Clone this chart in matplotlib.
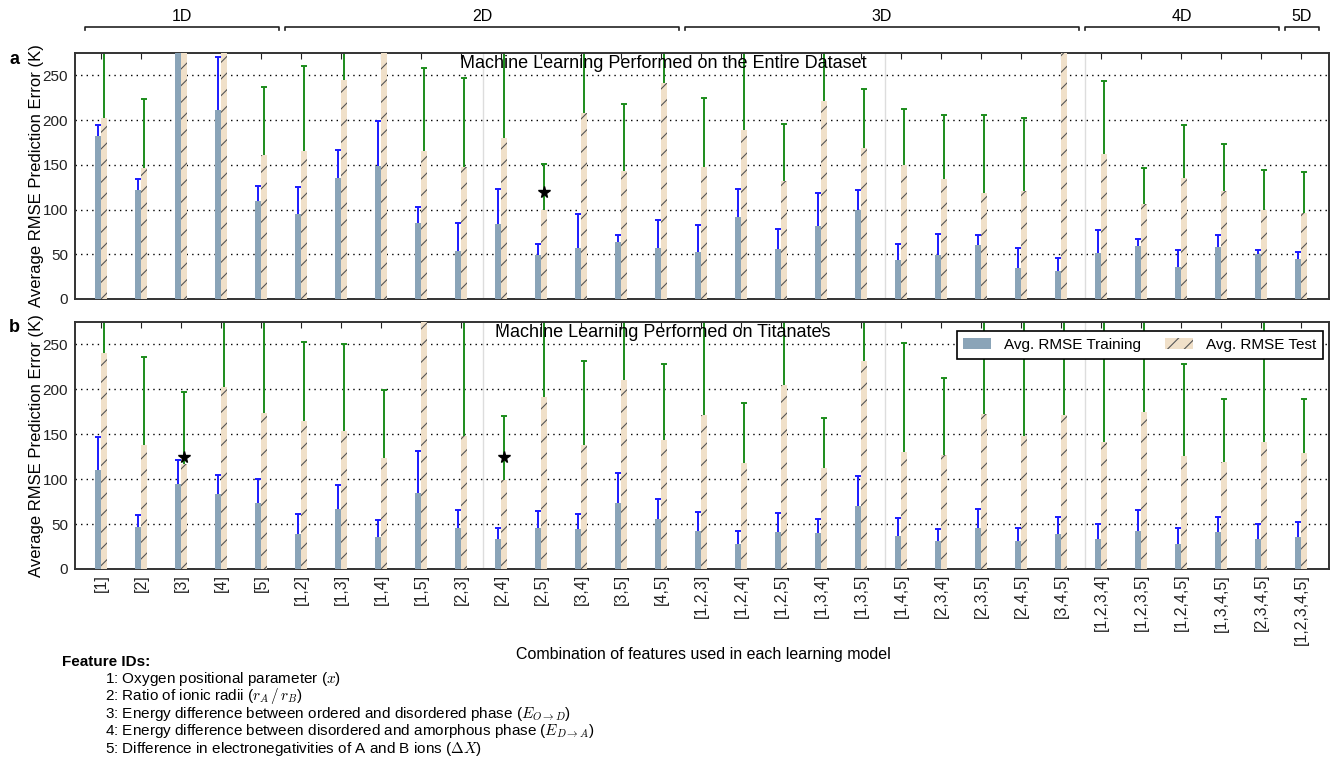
import matplotlib
matplotlib.use("Agg")
import matplotlib.pyplot as plt
import matplotlib.transforms as mtransforms
from matplotlib.patches import Patch
import numpy as np

plt.rcParams["font.family"] = ["Liberation Sans", "DejaVu Sans"]
plt.rcParams["mathtext.fontset"] = "cm"
plt.rcParams["hatch.linewidth"] = 0.8

combos = ["[1]", "[2]", "[3]", "[4]", "[5]",
          "[1,2]", "[1,3]", "[1,4]", "[1,5]", "[2,3]", "[2,4]", "[2,5]", "[3,4]", "[3,5]", "[4,5]",
          "[1,2,3]", "[1,2,4]", "[1,2,5]", "[1,3,4]", "[1,3,5]", "[1,4,5]", "[2,3,4]", "[2,3,5]",
          "[2,4,5]", "[3,4,5]",
          "[1,2,3,4]", "[1,2,3,5]", "[1,2,4,5]", "[1,3,4,5]", "[2,3,4,5]", "[1,2,3,4,5]"]
dims = ["1D", "2D", "3D", "4D", "5D"]
dim_sizes = [5, 10, 10, 5, 1]

# panel a: whole dataset
train_a = [182, 122, 290, 211, 109, 95, 135, 149, 85, 54, 84, 49, 57, 64, 57,
           52, 92, 56, 82, 100, 44, 49, 60, 35, 31, 51, 59, 36, 58, 50, 45]
train_a_err = [13, 12, 20, 59, 17, 30, 32, 50, 18, 31, 39, 12, 38, 8, 31,
               31, 31, 22, 37, 22, 17, 24, 12, 22, 15, 26, 8, 19, 13, 5, 8]
test_a = [202, 146, 300, 290, 161, 166, 245, 285, 165, 148, 180, 100, 208, 143, 241,
          148, 189, 132, 221, 169, 150, 134, 119, 121, 285, 162, 106, 135, 121, 99, 96]
test_a_err = [95, 78, 60, 60, 76, 94, 60, 60, 93, 99, 110, 51, 85, 75, 60,
              77, 100, 64, 70, 66, 62, 72, 87, 81, 60, 82, 41, 60, 52, 45, 46]

# panel b: titanates
train_b = [110, 47, 95, 84, 74, 39, 67, 36, 85, 46, 33, 46, 44, 74, 56,
           42, 28, 41, 40, 70, 37, 31, 46, 31, 39, 33, 42, 28, 41, 33, 36]
train_b_err = [37, 13, 26, 21, 26, 22, 27, 19, 46, 20, 13, 19, 17, 33, 22,
               22, 14, 21, 16, 34, 20, 14, 21, 15, 19, 17, 24, 18, 17, 17, 16]
test_b = [240, 138, 117, 203, 174, 165, 154, 124, 290, 148, 99, 191, 138, 210, 144,
          171, 118, 205, 112, 232, 130, 127, 173, 148, 171, 141, 175, 126, 119, 141, 129]
test_b_err = [70, 98, 80, 95, 120, 88, 96, 75, 60, 150, 71, 100, 94, 80, 84,
              120, 67, 90, 56, 60, 122, 86, 115, 140, 120, 150, 115, 102, 70, 150, 60]

# best models (stars)
star_a_idx, star_a_val = [11], [120]
star_b_idx, star_b_val = [2, 10], [125, 125]

features = [
    r"1: Oxygen positional parameter ($x$)",
    r"2: Ratio of ionic radii ($r_A\,/\,r_B$)",
    r"3: Energy difference between ordered and disordered phase ($E_{O\rightarrow D}$)",
    r"4: Energy difference between disordered and amorphous phase ($E_{D\rightarrow A}$)",
    r"5: Difference in electronegativities of A and B ions ($\Delta X$)",
]

W, H = 1330, 760
TRAIN_C = "#8aa4b8"
TEST_C = "#f0e0c9"

fig = plt.figure(figsize=(W / 100, H / 100), dpi=100)


def px_box(left, top, right, bottom):
    return [left / W, 1 - bottom / H, (right - left) / W, (bottom - top) / H]


ax_a = fig.add_axes(px_box(75, 53, 1329, 299))
ax_b = fig.add_axes(px_box(75, 322, 1329, 569))
x = np.arange(len(combos))
bw = 0.16


def draw(ax, tr, tr_e, te, te_e, title, s_idx, s_val):
    ax.errorbar(x - bw / 2, tr, yerr=tr_e, fmt="none", ecolor="#1a1aff",
                elinewidth=1.4, capsize=2.5, capthick=1.4, zorder=2)
    ax.errorbar(x + bw / 2, te, yerr=te_e, fmt="none", ecolor="#1c8c1c",
                elinewidth=1.4, capsize=2.5, capthick=1.4, zorder=2)
    ax.bar(x - bw / 2, tr, bw, color=TRAIN_C, linewidth=0, zorder=3)
    ax.bar(x + bw / 2, te, bw, color=TEST_C, edgecolor="#555555", linewidth=0,
           hatch="//", zorder=3)
    ax.plot(x[s_idx] + bw / 2, s_val, marker="*", color="black", ms=8.5,
            linestyle="none", zorder=5)
    for sep in [9.55, 19.6, 24.6]:
        ax.axvline(sep, color="#dddddd", linewidth=1, zorder=1)
    ax.set_ylim(0, 275)
    ax.set_xlim(-0.65, 30.7)
    ax.set_yticks([0, 50, 100, 150, 200, 250])
    ax.yaxis.grid(True, linestyle=(0, (1, 3)), color="black", linewidth=1)
    ax.set_axisbelow(True)
    ax.set_xticks(x)
    ax.tick_params(direction="in", top=True, length=4, labelsize=11, colors="#222222")
    ax.tick_params(axis="y", length=0, pad=5)
    for sp in ax.spines.values():
        sp.set_color("#333333")
        sp.set_linewidth(1.4)
    ax.set_ylabel("Average RMSE Prediction Error (K)", fontsize=12, labelpad=-1)
    ax.text(14.05, 272.5, title, ha="center", va="top", fontsize=13, zorder=6)


draw(ax_a, train_a, train_a_err, test_a, test_a_err,
     "Machine Learning Performed on the Entire Dataset", star_a_idx, star_a_val)
draw(ax_b, train_b, train_b_err, test_b, test_b_err,
     "Machine Learning Performed on Titanates", star_b_idx, star_b_val)
ax_a.set_xticklabels([])
ax_b.set_xticklabels(combos, rotation=90, fontsize=11.5)
fig.text(703 / W, 1 - 655 / H, "Combination of features used in each learning model",
         ha="center", va="center", fontsize=11.5)

handles = [Patch(facecolor=TRAIN_C, linewidth=0),
           Patch(facecolor=TEST_C, edgecolor="#555555", linewidth=0, hatch="//")]
leg = ax_b.legend(handles, ["Avg. RMSE Training", "Avg. RMSE Test"], ncol=2,
                  loc="upper right", bbox_to_anchor=(0.9952, 0.9636), borderaxespad=0,
                  fontsize=11, fancybox=False, framealpha=1, edgecolor="black",
                  handlelength=1.8, handletextpad=0.85, columnspacing=1.6,
                  borderpad=0.45)
leg.get_frame().set_linewidth(1.2)
leg.set_zorder(10)

# dimension brackets above panel a
trans = mtransforms.blended_transform_factory(ax_a.transData, ax_a.transAxes)
start = 0
for name, n in zip(dims, dim_sizes):
    x0, x1 = start - 0.4, start + n - 1 + 0.45
    ax_a.plot([x0, x0, x1, x1], [1.095, 1.107, 1.107, 1.095], color="#222222",
              linewidth=1.2, transform=trans, clip_on=False)
    ax_a.text((x0 + x1) / 2, 1.15, name, ha="center", va="center", fontsize=11.5,
              transform=trans)
    start += n

fig.text(9 / W, 1 - 60 / H, "a", fontsize=13, weight="bold", ha="left", va="center")
fig.text(9 / W, 1 - 328 / H, "b", fontsize=13, weight="bold", ha="left", va="center")

fig.text(62 / W, 1 - 662 / H, "Feature IDs:", fontsize=11, weight="bold", va="center")
for i, line in enumerate(features):
    fig.text(105 / W, 1 - (679 + 17.5 * i) / H, line, fontsize=11, va="center")

fig.savefig("out.png", dpi=100)
